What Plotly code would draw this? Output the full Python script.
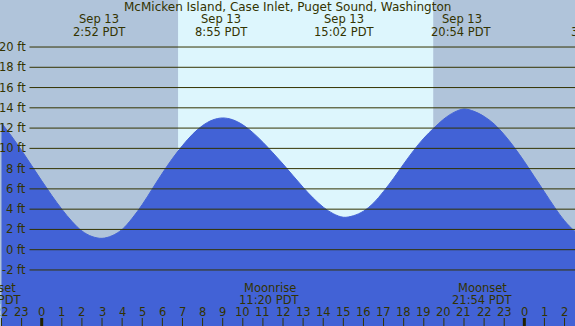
import plotly.graph_objects as go

# ---- data (hours relative to 00:00 Sep 13, PDT), heights ----
tide_hours = [-2.0, -1.5, -1.0, -0.5, 0.0, 0.5, 1.0, 1.5, 2.0, 2.5, 3.0, 3.5, 4.0, 4.5,
              5.0, 5.5, 6.0, 6.5, 7.0, 7.5, 8.0, 8.5, 9.0, 9.5, 10.0, 10.5, 11.0, 11.5,
              12.0, 12.5, 13.0, 13.5, 14.0, 14.5, 15.0, 15.5, 16.0, 16.5, 17.0, 17.5,
              18.0, 18.5, 19.0, 19.5, 20.0, 20.5, 21.0, 21.5, 22.0, 22.5, 23.0, 23.5,
              24.0, 24.5, 25.0, 25.5, 26.0, 26.5, 27.0]
tide_ft = [12.5, 11.2, 9.8, 8.3, 6.8, 5.35, 4.0, 2.8, 1.85, 1.3, 1.12, 1.38, 2.0, 3.1,
           4.45, 6.0, 7.55, 8.99, 10.27, 11.39, 12.25, 12.8, 13.0, 12.82, 12.32, 11.55, 10.6, 9.55,
           8.45, 7.3, 6.15, 5.1, 4.2, 3.55, 3.2, 3.35, 3.8, 4.6, 5.75, 7.05,
           8.45, 9.8, 11.0, 12.0, 12.9, 13.55, 13.88, 13.65, 13.15, 12.4, 11.35, 10.1,
           8.7, 7.2, 5.7, 4.2, 2.85, 1.85, 1.2]

extreme_hours = [2.867, 8.917, 15.033, 20.9, 27.62]
extreme_dates = ["Sep 13", "Sep 13", "Sep 13", "Sep 13", "Sep 14"]
extreme_times = ["2:52 PDT", "8:55 PDT", "15:02 PDT", "20:54 PDT", "3:37 PDT"]

moon_hours = [-2.52, 11.333, 21.9]
moon_names = ["Moonset", "Moonrise", "Moonset"]
moon_times = ["21:29 PDT", "11:20 PDT", "21:54 PDT"]

sunrise_hour = 6.78
sunset_hour = 19.47

y_ticks = [-2, 0, 2, 4, 6, 8, 10, 12, 14, 16, 18, 20]
hour_ticks = list(range(-2, 27))

title = "McMicken Island, Case Inlet, Puget Sound, Washington"

# ---- style ----
W, H = 575, 326
X_RANGE = [-2.074, 26.52]
Y_RANGE = [-7.53, 24.64]
NIGHT = "#B0C4DA"
DAY = "#DDF6FD"
WATER = "#4262D6"
INK = "#333300"
FONT = "DejaVu Sans"
FS = 11.5


def py(px):
    return 1 - px / H


def px_h(h):
    return (h - X_RANGE[0]) / (X_RANGE[1] - X_RANGE[0])


fig = go.Figure()
fig.add_trace(go.Scatter(x=[tide_hours[0], tide_hours[-1]], y=[Y_RANGE[0] - 1] * 2,
                         mode="lines", line=dict(width=0), hoverinfo="skip", showlegend=False))
fig.add_trace(go.Scatter(x=tide_hours, y=tide_ft, mode="lines", fill="tonexty",
                         fillcolor=WATER, line=dict(color=WATER, width=1, shape="spline"),
                         hoverinfo="skip", showlegend=False))

shapes = []
annotations = []

# daylight band
shapes.append(dict(type="rect", xref="x", yref="paper", x0=sunrise_hour, x1=sunset_hour,
                   y0=0, y1=1, fillcolor=DAY, line=dict(width=0), layer="below"))

# gridlines and labels
for v in y_ticks:
    shapes.append(dict(type="line", xref="paper", yref="y", x0=29.5 / W, x1=1, y0=v, y1=v,
                       line=dict(color=INK, width=1), layer="above"))
    annotations.append(dict(xref="paper", yref="y", x=27.5 / W, y=v, xanchor="right",
                            yanchor="middle", text=f"{v} ft", showarrow=False,
                            font=dict(family=FONT, size=FS, color=INK)))

# hour ticks and labels
for h in hour_ticks:
    midnight = (h % 24 == 0)
    shapes.append(dict(type="line", xref="x", yref="paper", x0=h, x1=h, y0=0, y1=8 / H,
                       line=dict(color="#222200" if midnight else INK, width=3 if midnight else 1),
                       layer="above"))
    annotations.append(dict(xref="paper", yref="paper", x=px_h(h), y=py(312), xanchor="center",
                            yanchor="middle", text=str(h % 24), showarrow=False,
                            font=dict(family=FONT, size=FS, color=INK)))

# title
annotations.append(dict(xref="paper", yref="paper", x=0.5, y=py(7.5), xanchor="center",
                        yanchor="middle", text=title, showarrow=False,
                        font=dict(family=FONT, size=12, color=INK)))

# tide extreme labels
for h, d, t in zip(extreme_hours, extreme_dates, extreme_times):
    annotations.append(dict(xref="paper", yref="paper", x=px_h(h), y=py(19.5), xanchor="center",
                            yanchor="middle", text=d, showarrow=False,
                            font=dict(family=FONT, size=FS, color=INK)))
    annotations.append(dict(xref="paper", yref="paper", x=px_h(h), y=py(31.5), xanchor="center",
                            yanchor="middle", text=t, showarrow=False,
                            font=dict(family=FONT, size=FS, color=INK)))

# moon labels
for h, n, t in zip(moon_hours, moon_names, moon_times):
    annotations.append(dict(xref="paper", yref="paper", x=px_h(h), y=py(288), xanchor="center",
                            yanchor="middle", text=n, showarrow=False,
                            font=dict(family=FONT, size=FS, color=INK)))
    annotations.append(dict(xref="paper", yref="paper", x=px_h(h), y=py(300), xanchor="center",
                            yanchor="middle", text=t, showarrow=False,
                            font=dict(family=FONT, size=FS, color=INK)))

fig.update_layout(
    width=W, height=H, margin=dict(l=0, r=0, t=0, b=0),
    paper_bgcolor=NIGHT, plot_bgcolor=NIGHT,
    xaxis=dict(range=X_RANGE, visible=False, fixedrange=True),
    yaxis=dict(range=Y_RANGE, visible=False, fixedrange=True),
    shapes=shapes, annotations=annotations, showlegend=False,
)

fig.write_html("out.html", config={"displayModeBar": False},
               post_script="document.body.style.margin='0';document.body.style.overflow='hidden';")
